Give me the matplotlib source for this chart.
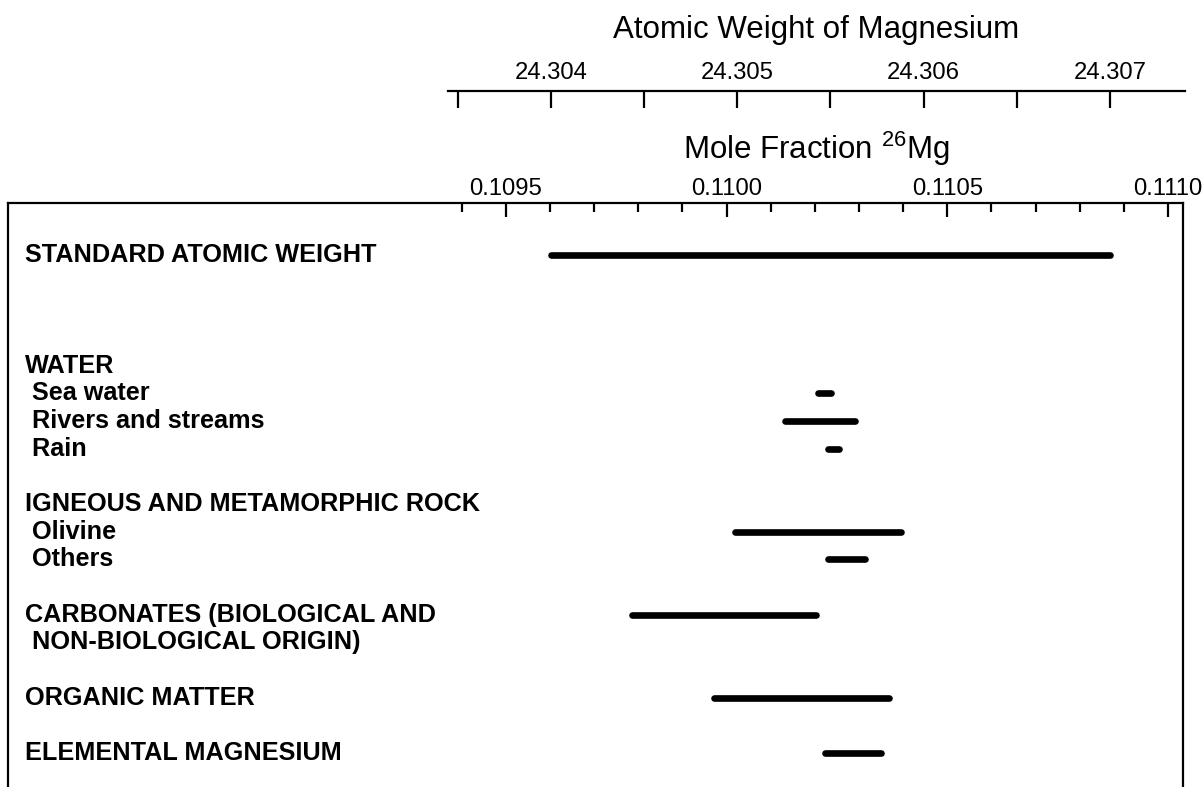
import matplotlib
matplotlib.use("Agg")
import matplotlib.pyplot as plt
from matplotlib.ticker import FixedLocator, FormatStrFormatter
import matplotlib.transforms as mtransforms

plt.rcParams['font.family'] = ['Liberation Sans', 'DejaVu Sans']
plt.rcParams['mathtext.fontset'] = 'custom'
plt.rcParams['mathtext.rm'] = 'Liberation Sans'

# ---------------- data ----------------
labels = ["STANDARD ATOMIC WEIGHT",
          "WATER", " Sea water", " Rivers and streams", " Rain",
          "IGNEOUS AND METAMORPHIC ROCK", " Olivine", " Others",
          "CARBONATES (BIOLOGICAL AND", " NON-BIOLOGICAL ORIGIN)",
          "ORGANIC MATTER", "ELEMENTAL MAGNESIUM"]
label_rows = [0, 4, 5, 6, 7, 9, 10, 11, 13, 14, 16, 18]

bar_rows = [0, 5, 6, 7, 10, 11, 13, 16, 18]
bar_low = [0.109603, 0.110206, 0.110132, 0.110229, 0.110020, 0.110229,
           0.109785, 0.109971, 0.110224]
bar_high = [0.110868, 0.110236, 0.110290, 0.110254, 0.110395, 0.110313,
            0.110202, 0.110367, 0.110349]

mf_major = [0.1095, 0.1100, 0.1105, 0.1110]
mf_minor = [0.1094, 0.1096, 0.1097, 0.1098, 0.1099, 0.1101, 0.1102, 0.1103,
            0.1104, 0.1106, 0.1107, 0.1108, 0.1109]
aw_major = [24.304, 24.305, 24.306, 24.307]
aw_minor = [24.3035, 24.3045, 24.3055, 24.3065]

# ---------------- figure ----------------
W, H = 1204, 787
fig = plt.figure(figsize=(W / 100, H / 100), dpi=100)

# main box
x0, x1, ytop = 8, 1183, 203
ax = fig.add_axes([x0 / W, 0, (x1 - x0) / W, (H - ytop) / H])
ax.set_xlim(0.108372, 0.111034)
row_px = 27.67
ax.set_ylim((H - 255) / row_px, -(255 - ytop) / row_px)
for s in ['left', 'right', 'top']:
    ax.spines[s].set_linewidth(1.6)
ax.spines['bottom'].set_visible(False)
ax.yaxis.set_visible(False)
ax.xaxis.tick_top()
ax.xaxis.set_major_locator(FixedLocator(mf_major))
ax.xaxis.set_minor_locator(FixedLocator(mf_minor))
ax.xaxis.set_major_formatter(FormatStrFormatter('%.4f'))
ax.tick_params(axis='x', which='major', direction='in', length=10, width=1.6,
               labelsize=17.2, pad=2.5, colors='black')
ax.tick_params(axis='x', which='minor', direction='in', length=6.5, width=1.6)

for lo, hi, r in zip(bar_low, bar_high, bar_rows):
    ax.plot([lo, hi], [r, r], color='black', lw=4.8, solid_capstyle='round')

trans = mtransforms.blended_transform_factory(ax.transAxes, ax.transData)
for lab, r in zip(labels, label_rows):
    ax.text((25 - x0) / (x1 - x0), r, lab, transform=trans, ha='left',
            va='center', fontsize=18.2, fontweight='bold')

# top (atomic weight) axis
la, lb, yline = 448, 1185, 90.7
ax2 = fig.add_axes([la / W, (H - yline) / H - 0.02, (lb - la) / W, 0.02])
ax2.set_xlim(24.303447, 24.307403)
ax2.patch.set_visible(False)
for s in ['left', 'right', 'bottom']:
    ax2.spines[s].set_visible(False)
ax2.spines['top'].set_linewidth(1.6)
ax2.yaxis.set_visible(False)
ax2.xaxis.tick_top()
ax2.xaxis.set_major_locator(FixedLocator(aw_major))
ax2.xaxis.set_minor_locator(FixedLocator(aw_minor))
ax2.xaxis.set_major_formatter(FormatStrFormatter('%.3f'))
ax2.tick_params(axis='x', which='both', direction='in', length=12.2, width=1.6)
ax2.tick_params(axis='x', which='major', labelsize=17.2, pad=5)

fig.text(816 / W, 1 - 30 / H, "Atomic Weight of Magnesium", ha='center',
         va='center', fontsize=22.5)
fig.text(816 / W, 1 - 149 / H, r"Mole Fraction $\mathregular{^{26}}$Mg",
         ha='center', va='center', fontsize=22.5)

fig.savefig("out.png", dpi=100)
